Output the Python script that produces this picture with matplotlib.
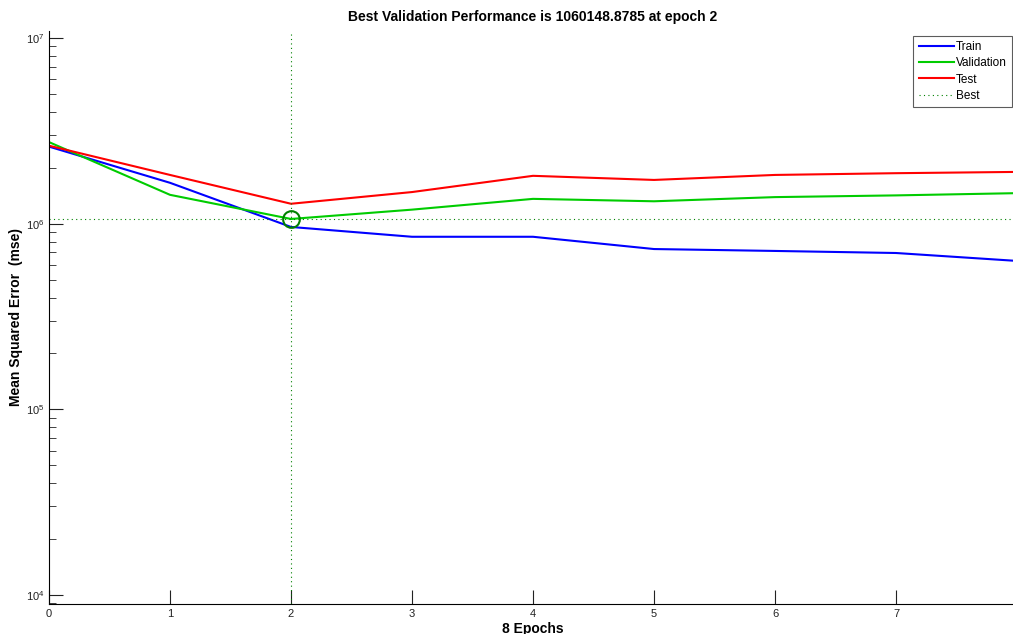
import matplotlib
matplotlib.use("Agg")
import matplotlib.pyplot as plt
import numpy as np

plt.rcParams['font.family'] = ['Liberation Sans', 'DejaVu Sans']

epochs = [0, 1, 2, 3, 4, 5, 6, 7, 8]
train = [2.60e6, 1.66e6, 9.6e5, 8.5e5, 8.5e5, 7.3e5, 7.13e5, 6.95e5, 6.3e5]
validation = [2.75e6, 1.43e6, 1.06e6, 1.19e6, 1.36e6, 1.32e6, 1.39e6, 1.42e6, 1.46e6]
test = [2.63e6, 1.83e6, 1.28e6, 1.48e6, 1.81e6, 1.72e6, 1.83e6, 1.87e6, 1.90e6]
best_epoch = 2
best_perf = 1060148.8785
xticks = [0, 1, 2, 3, 4, 5, 6, 7]

fig = plt.figure(figsize=(10.13, 6.34), dpi=100)
ax = fig.add_axes([49/1013, 30/634, 968/1013, 573/634])

ax.plot(epochs, train, color=(0, 0, 1), lw=1.5, label='Train')
ax.plot(epochs, validation, color=(0, 0.8, 0), lw=1.5, label='Validation')
ax.plot(epochs, test, color=(1, 0, 0), lw=1.5, label='Test')
ax.axvline(best_epoch, color=(0, 0.5, 0), ls=(0, (1, 3)), lw=0.8, label='Best')
ax.axhline(best_perf, color=(0, 0.5, 0), ls=(0, (1, 3)), lw=0.8)
ax.plot([best_epoch], [best_perf], 'o', mfc='none', mec=(0, 0.5, 0), ms=12, mew=1.5)

ax.set_yscale('log')
ax.set_xlim(0, 8)
ax.set_ylim(10**3.9515, 10**7.0377)
ax.set_xticks(xticks)
ax.set_yticks([1e4, 1e5, 1e6, 1e7])

for s in ['top', 'right']:
    ax.spines[s].set_visible(False)
ax.tick_params(which='both', direction='in', labelsize=8, colors='#222222')
ax.tick_params(which='major', length=10)
ax.tick_params(which='minor', length=5)
ax.tick_params(axis='y', pad=3)

ax.set_title('Best Validation Performance is 1060148.8785 at epoch 2',
             fontsize=10, fontweight='bold', pad=7)
ax.set_xlabel('8 Epochs', fontsize=10, fontweight='bold', labelpad=2)
ax.set_ylabel('Mean Squared Error  (mse)', fontsize=10, fontweight='bold', labelpad=2)

leg = ax.legend(loc='upper right', bbox_to_anchor=(1012/1013, 1 - 36/634),
                bbox_transform=fig.transFigure, fontsize=8.5,
                frameon=True, fancybox=False, edgecolor='#333333', handlelength=3.0,
                handletextpad=0.15, borderpad=0.45, labelspacing=0.35, borderaxespad=0)
leg.get_frame().set_linewidth(0.8)

fig.savefig('out.png', dpi=100)
